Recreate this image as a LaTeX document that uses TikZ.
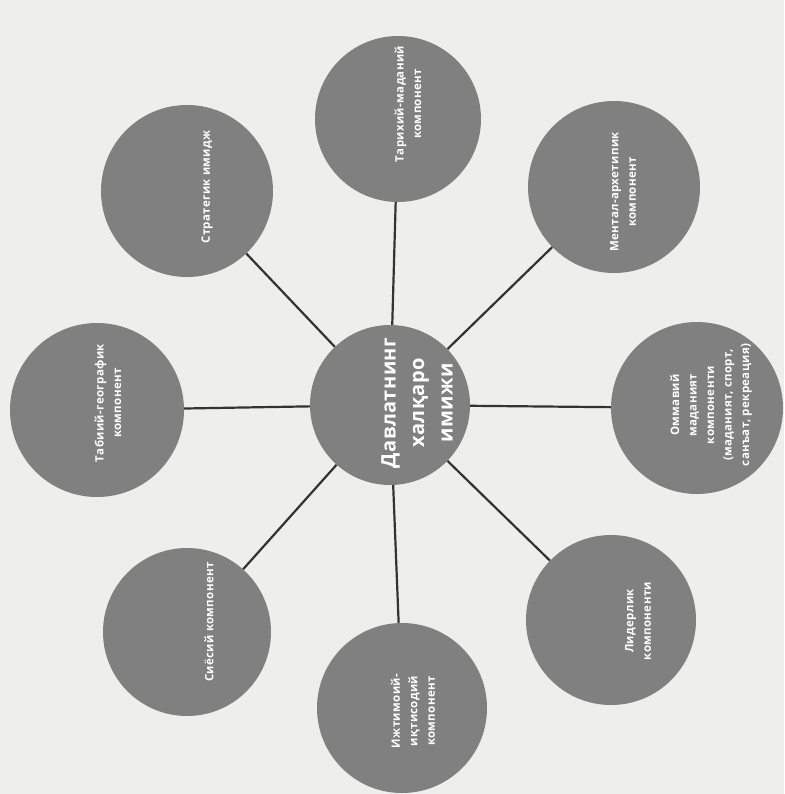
\documentclass[tikz,border=0pt]{standalone}
\usepackage{fontspec}
\setmainfont{Open Sans}
\definecolor{pagebg}{HTML}{EEEEEC}
\definecolor{discfill}{HTML}{808080}
\definecolor{linkcol}{HTML}{333333}
\begin{document}
\begin{tikzpicture}[x=1pt,y=-1pt,
  disc/.style={circle, fill=discfill, minimum size=#1, inner sep=0pt},
  lbl/.style={rotate=90, text=white, align=center, font=\fontsize{11.5}{17.5}\selectfont\bfseries\addfontfeatures{LetterSpace=3}},
  bigl/.style={rotate=90, text=white, align=center, font=\fontsize{20}{28.5}\selectfont\bfseries\addfontfeatures{LetterSpace=2}},
  link/.style={draw=linkcol, line width=2.2pt}]
\fill[pagebg] (0,0) rectangle (784,794);
\useasboundingbox (0,0) rectangle (784,794);
% discs
\node[disc=160] (c)  at (390,405) {};
\node[disc=166] (t)  at (398,119) {};
\node[disc=172] (m)  at (614,187) {};
\node[disc=172] (o)  at (697,408) {};
\node[disc=170] (l)  at (611,620) {};
\node[disc=170] (i)  at (402,708) {};
\node[disc=168] (s)  at (187,632) {};
\node[disc=174] (tb) at (97,410) {};
\node[disc=172] (st) at (187,191) {};
% connectors
\foreach \n in {t,m,o,l,i,s,tb,st} \draw[link] (c) -- (\n);
% labels
\node[bigl] (cL) at (417,403) {Давлатнинг\\халқаро\\имижи};
\node[lbl] (tL)  at (408,104) {Тарихий-маданий\\компонент};
\node[lbl] (mL)  at (623,192) {Ментал-архетипик\\компонент};
\node[lbl] (oL)  at (711,405) {Оммавий\\маданият\\компоненти\\(маданият, спорт,\\санъат, рекреация)};
\node[lbl] (lL)  at (638,621) {Лидерлик\\компоненти};
\node[lbl] (iL)  at (413,711) {Ижтимоий-\\иқтисодий\\компонент};
\node[lbl] (sL)  at (209,622) {Сиёсий компонент};
\node[lbl] (tbL) at (108,403) {Табиий-географик\\компонент};
\node[lbl] (stL) at (207,187) {Стратегик имидж};
\end{tikzpicture}
\end{document}
